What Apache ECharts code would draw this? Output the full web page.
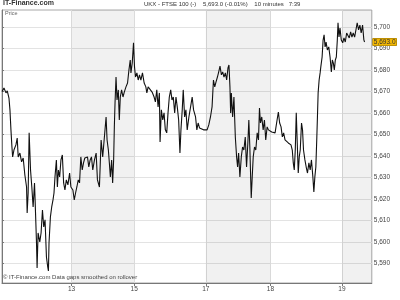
<!DOCTYPE html>
<html><head><meta charset="utf-8">
<script src="https://cdn.jsdelivr.net/npm/echarts@6/dist/echarts.min.js"></script>
<style>html,body{margin:0;padding:0;background:#fff}#c{width:400px;height:300px}</style>
</head><body><div id="c"></div>
<script>
// time index (10-minute session time, scaled) and close prices
const times = [0,2,4,5.3,7,8,9,10,10.7,12,14,15.3,16.3,18,19.7,21.3,23,24.7,25.3,26.3,27.3,28.7,30,31.3,32.7,33.3,34.7,35.3,36.3,38,39.3,40.7,42,43.3,44.7,46,46.7,47.3,48.7,50,51.3,52.3,53.3,54.7,55.7,56.7,58,59.3,60.7,62,63.3,64.7,66.3,68,69.3,71.3,72.7,74,75.3,76.7,78,79.3,80.7,82,83.3,84.7,86,87.3,88.7,90,91.3,93,94.7,96,
98,99.7,101.3,103,104.7,105.7,107,108,109,110.3,111.3,112.3,113,113.7,114.7,115.7,117,118,119,120.3,121.7,123,124.7,126.3,127.7,129,129.7,131,132.3,133.3,134.3,135.7,137,138.3,139.7,141.3,143,144.7,145.7,147,149,151,153,154.3,155.7,157,158.3,159,160.3,161.7,163,164.3,165.7,167,168.3,169.7,171,172.3,173.7,175,176.3,177.7,179,180,181.3,182.3,183.7,185,186.3,188,189.7,191.3,192.7,
194.7,196,197.3,198.7,200.7,202.7,204.7,206.3,208,209.7,211.3,212.7,214,215.3,216.7,218,219.3,220.7,222,223.3,224.7,226,227.3,228.3,229.3,230,230.7,232,233.3,234.7,236,237,238,239.3,240.7,242,243.3,244.7,246,247.3,248.3,249.3,250.7,251.7,252.7,254,255.3,256.7,258,259,260,261.3,262.7,264,265.3,266.7,
268,271.3,274.7,276.7,278,279.3,280.7,282,283.3,284.7,286.7,288,289.3,290.7,292,293,294,295,296,297,298,299,300,301.3,302.3,303.3,304.7,306,307.3,308.7,310,311.3,312.7,313.7,314.7,315.7,316.7,317.3,318,319,320,320.7,322,323,324,325,326,327.3,328.7,330,331.3,332.3,333.3,334.3,335.3,336.3,337.3,338,339,340,341.3,342.7,344,345.3,346.7,348,349.3,350.7,352,353.3,354.7,356,357.3,358.7,360,361.3,362.7,364,364.7];
const prices = [5669.9,5671.6,5669.3,5670.3,5666.9,5661.4,5652.1,5644.1,5639.5,5642.7,5645.1,5648.3,5639.5,5641.3,5637.2,5639,5631.1,5625.5,5613.4,5622.7,5650.7,5633.4,5625.5,5616.2,5627.4,5619.5,5599.5,5587.8,5604.1,5599.9,5604.1,5614.8,5606.9,5610.2,5592.9,5588.3,5586.4,5599.5,5611.6,5616.2,5619.5,5622.7,5630.2,5638.1,5625.5,5633.4,5630.2,5638.1,5640.4,5627.4,5624.1,5628.8,5626.5,5632,5625.5,5624.1,5619.5,5622.7,5625.5,5628.8,5627.4,5639.5,5633.4,5636.7,5639,5638.1,5639.5,5634.8,5638.1,5639.5,5633.4,5638.1,5641.3,5628.8,
5625.5,5647.4,5639.5,5648.8,5658.1,5647.4,5642.7,5636.7,5630.2,5638.1,5627.4,5638.1,5653.4,5664.6,5676.7,5666,5670.7,5656.7,5667.4,5670.7,5667.4,5669.7,5672.1,5673.9,5680,5684.6,5678.6,5683.2,5692.6,5681.4,5676.7,5678.6,5675.3,5677.7,5675.3,5678.6,5673.9,5672.1,5669.3,5672.1,5671.6,5669.7,5667.4,5665.1,5670.7,5662.8,5669.3,5646.5,5661.4,5656.7,5660,5652.1,5650.7,5660,5667.4,5670.7,5666,5667.4,5660,5667.4,5662.8,5656.7,5641.3,5652.1,5661.4,5670.7,5658.1,5661.4,5652.1,5658.1,5662.8,5667.4,5661.4,
5658.1,5652.1,5655.3,5653,5653.5,5652.1,5653,5652.1,5654.4,5658.1,5662.8,5675.3,5672.1,5674.4,5676.7,5679.1,5681.8,5677.7,5679.1,5676.7,5678.6,5675.3,5680.9,5682.3,5672.1,5660,5669.3,5658.1,5667.4,5648.8,5639.5,5634.8,5641.3,5630.2,5639.5,5644.1,5642.7,5648.8,5634.8,5646,5656.7,5644.1,5620.4,5630.2,5639.5,5644.1,5642.7,5650.7,5647.4,5662.3,5655.3,5658.1,5652.1,5656.7,5647.4,5653.5,
5652.1,5651.1,5650.7,5656.7,5660.4,5655.3,5653.5,5648.8,5650.7,5647.4,5648.3,5646,5646.5,5645.1,5642.7,5636.7,5633.4,5642.7,5660,5646,5632,5639.5,5642.7,5655.3,5652.1,5642.7,5638.1,5634.8,5632,5636.7,5633.4,5638.1,5630.2,5623.2,5630.2,5634.8,5648.8,5658.1,5669.3,5675.3,5678.6,5681.4,5686,5693.9,5696.3,5690.7,5693,5689.3,5690.7,5686,5679.1,5684.6,5683.2,5680,5684.6,5686,5693.9,5701.9,5695.3,5699.5,5693.9,5692.6,5694.9,5693,5697.2,5696.3,5694.9,5697.7,5695.3,5697.2,5695.3,5698.6,5701.9,5698.6,5700.9,5697.2,5700.9,5694,5693];
const dayStarts = [70,133,205,270,342];
const dayLabels = ['13','15','17','18','19'];
const shadedDays = [[70,133],[205,270],[342,372]];
const priceTicks = [5590,5600,5610,5620,5630,5640,5650,5660,5670,5680,5690,5700];
const lastPrice = 5693.0;

const FONT = 'Liberation Sans';
const chart = echarts.init(document.getElementById('c'), null, {renderer:'canvas'});
const fmt = v => v.toLocaleString('en-US');
chart.setOption({
  animation:false,
  grid:{left:2,right:26,top:10,bottom:17,show:true,borderColor:'#a8a8a8',borderWidth:1},
  xAxis:{type:'value',min:0,max:372,
    axisLine:{show:true,onZero:false,lineStyle:{color:'#777',width:1}},
    axisTick:{show:true,customValues:dayStarts,length:3,lineStyle:{color:'#777'}},
    axisLabel:{customValues:dayStarts,fontSize:6.5,color:'#444',fontFamily:FONT,margin:3,
      formatter:v=>{const i=dayStarts.indexOf(v);return i>=0?dayLabels[i]:'';}},
    splitLine:{show:true,lineStyle:{color:'#dedede',width:1}}},
  yAxis:[{type:'value',position:'right',min:5580.8,max:5707.9,
    axisLine:{show:true,lineStyle:{color:'#777',width:1}},
    axisTick:{show:true,customValues:priceTicks,length:2,lineStyle:{color:'#777'}},
    axisLabel:{customValues:priceTicks,fontSize:6.5,color:'#444',fontFamily:FONT,margin:2,formatter:fmt},
    splitLine:{show:true,lineStyle:{color:'#e3e3e3',width:1}}},
   {type:'value',position:'right',min:5580.8,max:5707.9,
    axisLine:{show:false},axisTick:{show:false},splitLine:{show:false},
    axisLabel:{customValues:[lastPrice],fontSize:6.5,color:'#333',fontFamily:FONT,margin:1,
      backgroundColor:'#f2b705',borderColor:'#8a6a00',borderWidth:0.5,padding:[0,1,0,1],
      formatter:v=>v.toLocaleString('en-US',{minimumFractionDigits:1,maximumFractionDigits:1})}}],
  graphic:[
    {type:'text',z:100,left:3,top:0,style:{text:'IT-Finance.com',font:'bold 7px '+FONT,fill:'#333'}},
    {type:'text',z:100,left:144,top:1,style:{text:'UKX - FTSE 100 (-)    5,693.0 (-0.01%)    10 minutes   7:39',font:'6px "Liberation Sans Narrow", '+FONT,fill:'#333'}},
    {type:'text',z:100,left:5,top:10,style:{text:'Price',font:'5.5px '+FONT,fill:'#666'}},
    {type:'text',z:100,left:3,top:274,style:{text:'© IT-Finance.com Data gaps smoothed on rollover',font:'6px "Liberation Sans Narrow", '+FONT,fill:'#444'}}
  ],
  series:[
    {type:'line',data:[[0,5650]],symbol:'none',silent:true,z:1,lineStyle:{opacity:0},
     markArea:{silent:true,itemStyle:{color:'rgba(0,0,0,0.055)'},
       data:shadedDays.map(d=>[{xAxis:d[0]},{xAxis:d[1]}])}},
    {type:'line',data:times.map((t,i)=>[t,prices[i]]),symbol:'none',
     lineStyle:{color:'#111',width:1.1},z:3}
  ]
});
</script></body></html>
